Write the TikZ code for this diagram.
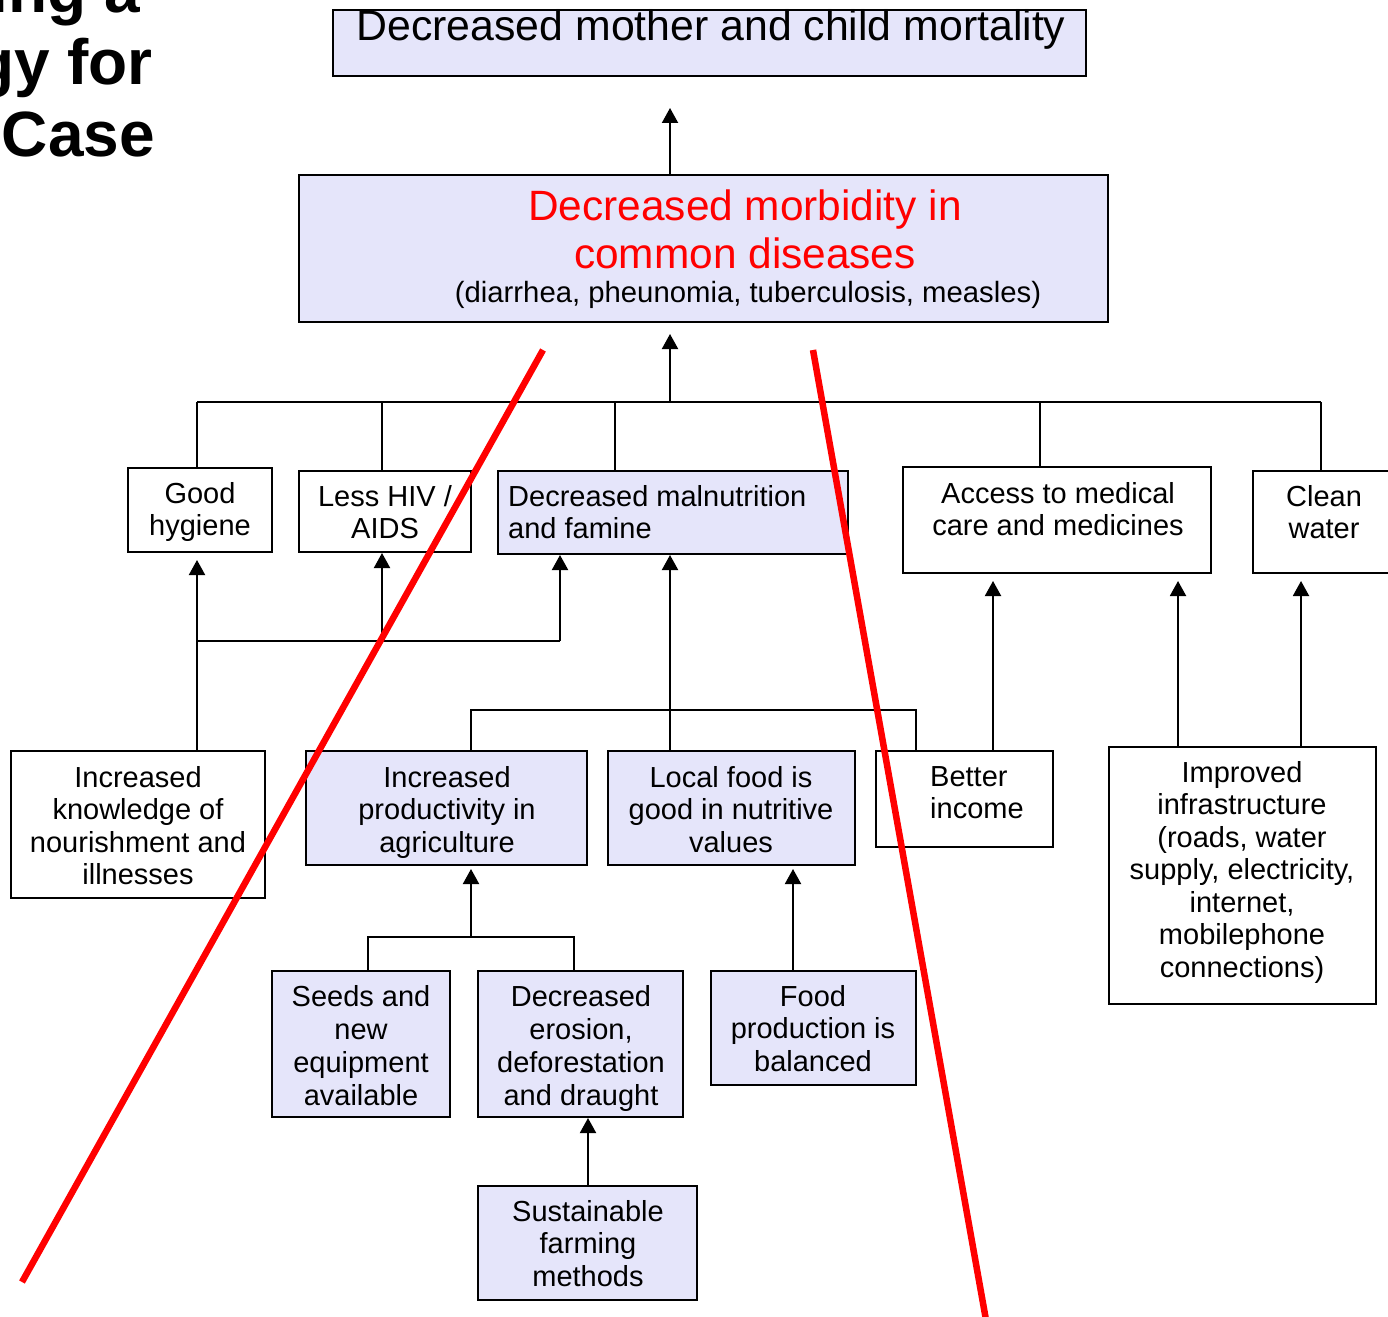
\documentclass[tikz,border=0pt]{standalone}
\usepackage{fontspec}
\setmainfont{Liberation Sans}
\usetikzlibrary{arrows.meta}
\definecolor{lav}{RGB}{229,229,250}
\begin{document}
\begin{tikzpicture}[x=1pt,y=-1pt,
  box/.style={draw=black, line width=2pt, inner sep=0pt, fill=white},
  lbox/.style={box, fill=lav},
  txt/.style={font=\fontsize{29}{32.5}\selectfont, align=center, inner sep=0pt, anchor=north},
  ltxt/.style={txt, align=left, anchor=north west},
  conn/.style={line width=2pt, black},
  arr/.style={conn, -{Triangle[width=16pt,length=15pt]}},
  strike/.style={line width=6.5pt, red},
  title/.style={font=\fontsize{64}{72}\selectfont\bfseries, inner sep=0pt, anchor=base east}]

\useasboundingbox (0,0) rectangle (1388,1316);
\clip (0,0) rectangle (1388,1316);

% heading fragment at the upper left
\node[title] (t1) at (140,13) {ing a};
\node[title] (t2) at (153,85) {gy for};
\node[title] (t3) at (155,157) {Case};

% boxes
\node[lbox, minimum width=753pt, minimum height=66pt] (top) at (709.5,43) {};
\node[lbox, minimum width=809pt, minimum height=147pt] (morb) at (703.5,248.5) {};

\node[box, minimum width=144pt, minimum height=84pt] (hyg) at (200,510) {};
\node[box, minimum width=172pt, minimum height=81pt] (hiv) at (385,511.5) {};
\node[lbox, minimum width=350pt, minimum height=83pt] (mal) at (673,512.5) {};
\node[box, minimum width=308pt, minimum height=106pt] (acc) at (1057,520) {};
\node[box, minimum width=147pt, minimum height=102pt] (clean) at (1326.5,522) {};

\node[box, minimum width=254pt, minimum height=147pt] (know) at (138,824.5) {};
\node[lbox, minimum width=281pt, minimum height=114pt] (prod) at (446.5,808) {};
\node[lbox, minimum width=247pt, minimum height=114pt] (local) at (731.5,808) {};
\node[box, minimum width=177pt, minimum height=96pt] (better) at (964.5,799) {};
\node[box, minimum width=267pt, minimum height=257pt] (infra) at (1242.5,875.5) {};

\node[lbox, minimum width=178pt, minimum height=146pt] (seeds) at (361,1044) {};
\node[lbox, minimum width=205pt, minimum height=146pt] (eros) at (580.5,1044) {};
\node[lbox, minimum width=205pt, minimum height=114pt] (food) at (813.5,1028) {};
\node[lbox, minimum width=219pt, minimum height=114pt] (sust) at (587.5,1243) {};

% texts
\node[font=\fontsize{42.8}{48}\selectfont, inner sep=0pt, anchor=base] (topT) at (711,41) {Decreased mother and child mortality};
\node[font=\fontsize{42.4}{48}\selectfont, text=red, align=center, inner sep=0pt, anchor=north] (morbT) at (745,190) {Decreased morbidity in\\common diseases};
\node[font=\fontsize{29.3}{32.5}\selectfont, inner sep=0pt, anchor=base] (morbS) at (748,302) {(diarrhea, pheunomia, tuberculosis, measles)};

\node[txt] (hygT) at (200,482) {Good\\hygiene};
\node[txt] (hivT) at (385,485) {Less HIV /\\AIDS};
\node[ltxt] (malT) at (508,485) {Decreased malnutrition\\and famine};
\node[txt] (accT) at (1058,482) {Access to medical\\care and medicines};
\node[txt] (cleanT) at (1324,485) {Clean\\water};

\node[txt] (knowT) at (138,766) {Increased\\knowledge of\\nourishment and\\illnesses};
\node[txt] (prodT) at (447,766) {Increased\\productivity in\\agriculture};
\node[txt] (localT) at (731,766) {Local food is\\good in nutritive\\values};
\node[ltxt] (betterT) at (930,766) {Better\\income};
\node[txt] (infraT) at (1242,761) {Improved\\infrastructure\\(roads, water\\supply, electricity,\\internet,\\mobilephone\\connections)};

\node[txt, font=\fontsize{29}{33}\selectfont] (seedsT) at (361,985) {Seeds and\\new\\equipment\\available};
\node[txt, font=\fontsize{29}{33}\selectfont] (erosT) at (581,985) {Decreased\\erosion,\\deforestation\\and draught};
\node[txt] (foodT) at (813,985) {Food\\production is\\balanced};
\node[txt] (sustT) at (588,1200) {Sustainable\\farming\\methods};

% connector helper points
\coordinate (spine) at (670,402);
\coordinate (b1l) at (197,402);
\coordinate (b1a) at (382,402);
\coordinate (b1b) at (615,402);
\coordinate (b1c) at (1040,402);
\coordinate (b1r) at (1321,402);

\coordinate (j1) at (197,641);
\coordinate (j1m) at (382,641);
\coordinate (j1r) at (560,641);

\coordinate (b2) at (670,710);
\coordinate (b2l) at (471,710);
\coordinate (b2r) at (916,710);

\coordinate (xb) at (993,660);
\coordinate (xi1) at (1178,660);
\coordinate (xi2) at (1301,660);

\coordinate (b3) at (471,937);
\coordinate (b3l) at (368,937);
\coordinate (b3r) at (574,937);
\coordinate (xf) at (793,937);
\coordinate (xs) at (588,1150);

% upper links
\draw[arr, shorten >=31pt] (spine |- morb.north) -- (spine |- top.south);
\draw[arr, shorten >=11pt] (spine) -- (spine |- morb.south);
\draw[conn] (b1l) -- (b1r);
\draw[conn] (b1l) -- (b1l |- hyg.north);
\draw[conn] (b1a) -- (b1a |- hiv.north);
\draw[conn] (b1b) -- (b1b |- mal.north);
\draw[conn] (b1c) -- (b1c |- acc.north);
\draw[conn] (b1r) -- (b1r |- clean.north);

% knowledge links
\draw[arr, shorten >=7pt] (j1 |- know.north) -- (j1 |- hyg.south);
\draw[conn] (j1) -- (j1r);
\draw[arr] (j1m) -- (j1m |- hiv.south);
\draw[arr] (j1r) -- (j1r |- mal.south);

% nutrition links
\draw[arr] (b2 |- local.north) -- (b2 |- mal.south);
\draw[conn] (b2l |- prod.north) -- (b2l) -- (b2r) -- (b2r |- better.north);

% income and infrastructure links
\draw[arr, shorten >=7pt] (xb |- better.north) -- (xb |- acc.south);
\draw[arr, shorten >=7pt] (xi1 |- infra.north) -- (xi1 |- acc.south);
\draw[arr, shorten >=7pt] (xi2 |- infra.north) -- (xi2 |- clean.south);

% lower links
\draw[conn] (b3l |- seeds.north) -- (b3l) -- (b3r) -- (b3r |- eros.north);
\draw[arr, shorten >=3pt] (b3) -- (b3 |- prod.south);
\draw[arr, shorten >=3pt] (xf |- food.north) -- (xf |- local.south);
\draw[arr] (xs |- sust.north) -- (xs |- eros.south);

% red strike-through lines
\coordinate (s1a) at (543,350);
\coordinate (s1b) at (22,1282);
\coordinate (s2a) at (813,350);
\coordinate (s2b) at (986,1320);
\draw[strike] (s1a) -- (s1b);
\draw[strike] (s2a) -- (s2b);
\end{tikzpicture}
\end{document}
